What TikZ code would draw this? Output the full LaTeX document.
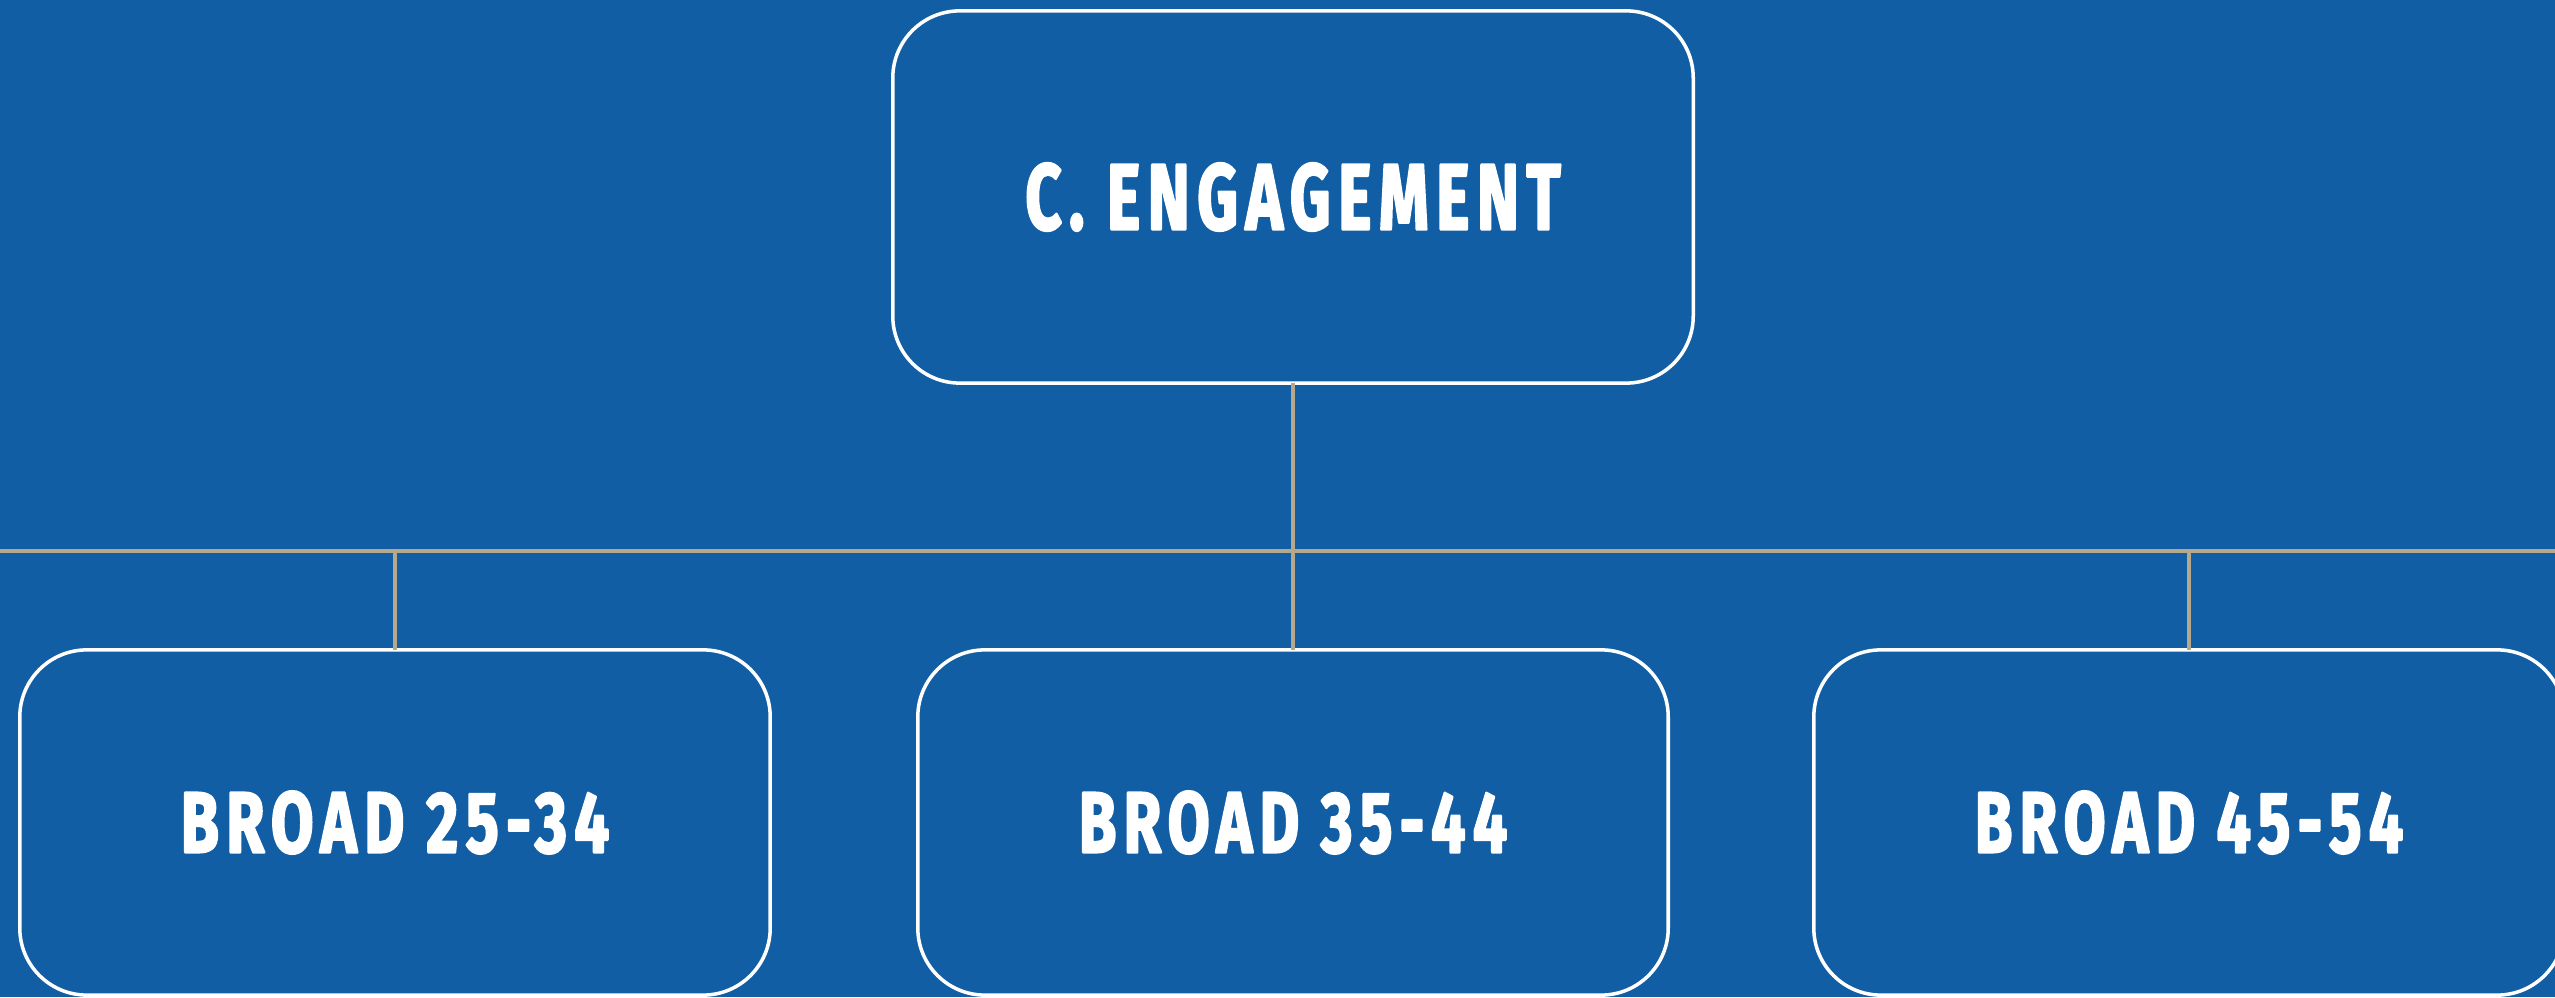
\documentclass[tikz,border=0pt]{standalone}
\usepackage{fontspec}
\usepackage{graphicx}
\newfontfamily\boxfont[LetterSpace=12,FakeBold=3,Numbers=Lining]{Fira Sans}
\definecolor{bgblue}{RGB}{18,94,164}
\definecolor{linktan}{RGB}{181,168,140}

\begin{document}
\begin{tikzpicture}[line cap=round,line join=round,x=0.01cm,y=0.01cm,
	box/.style={draw=white,line width=1pt,rounded corners=0.67cm,inner sep=0pt,outer sep=0pt,
		minimum width=7.5cm,minimum height=3.45cm,text=white},
	link/.style={draw=linktan,line width=1pt,line cap=butt}]
		\clip (0,0) rectangle (2555,997);
		\fill[bgblue] (0,0) rectangle (2555,997);
		% boxes
		\node[box,minimum width=8cm,minimum height=3.72cm] (engage) at (1293,800) {\resizebox{5.35cm}{0.66cm}{\boxfont\bfseries C. ENGAGEMENT}};
		\node[box] (broad25) at (395,174.5) {\resizebox{4.28cm}{0.61cm}{\boxfont\bfseries BROAD 25-34}\hspace{0.4cm}};
		\node[box] (broad35) at (1293,174.5) {\resizebox{4.28cm}{0.61cm}{\boxfont\bfseries BROAD 35-44}};
		\node[box] (broad45) at (2189,174.5) {\resizebox{4.28cm}{0.61cm}{\boxfont\bfseries BROAD 45-54}};
		% connectors
		\coordinate (busL) at (0,446);
		\coordinate (busR) at (2555,446);
		\draw[link] (busL) -- (busR);
		\draw[link] (engage.south) -- (engage.south |- busL);
		\draw[link] (broad25.north) -- (broad25.north |- busL);
		\draw[link] (broad35.north) -- (broad35.north |- busL);
		\draw[link] (broad45.north) -- (broad45.north |- busL);
	\end{tikzpicture}
\end{document}
